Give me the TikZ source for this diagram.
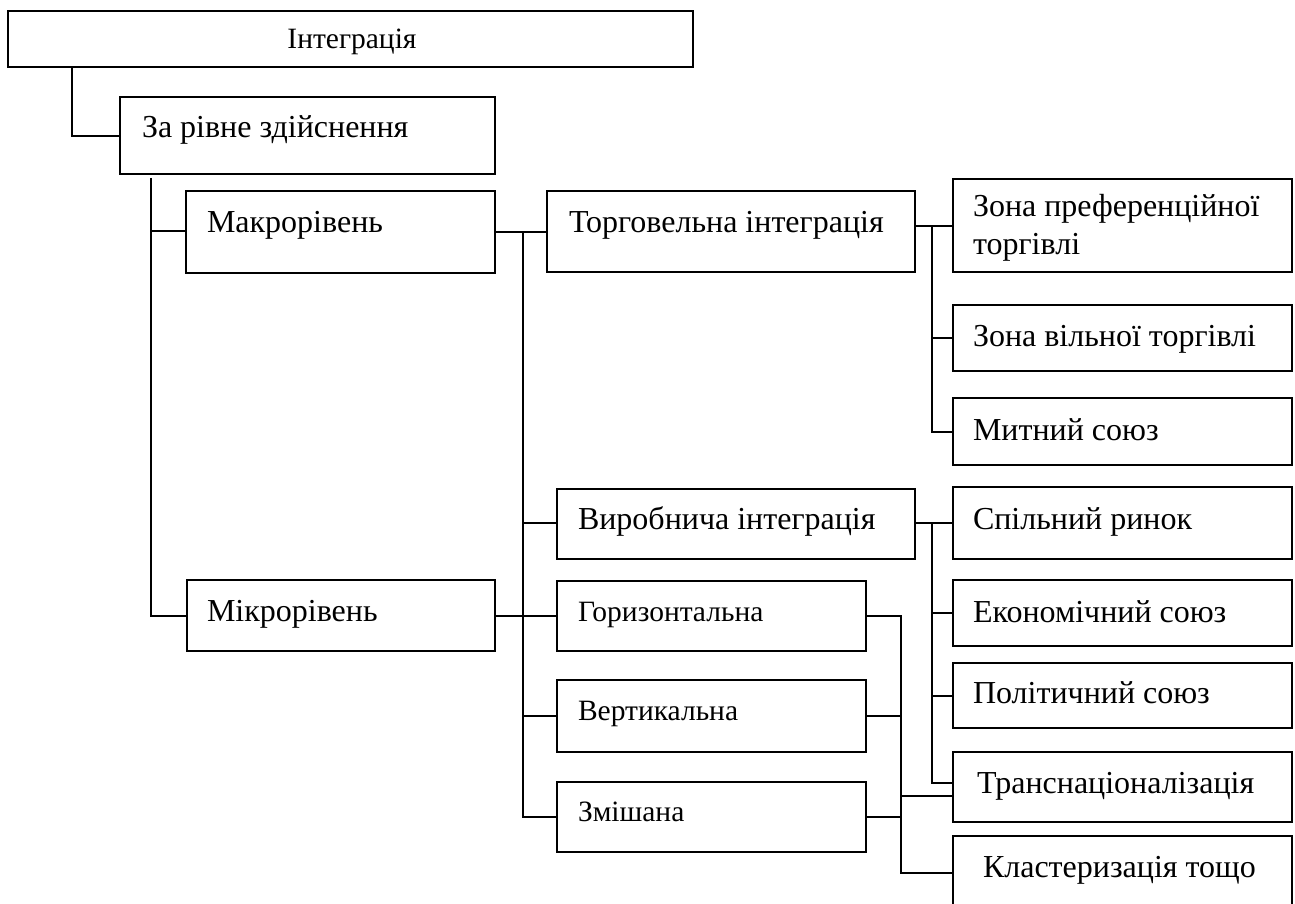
\documentclass[tikz,border=0pt]{standalone}
\usepackage{fontspec}
\setmainfont{Liberation Serif}
\tikzset{
  boxst/.style={draw=black, line width=1.8pt, rectangle, inner sep=0pt, outer sep=0pt, fill=white},
  txt/.style={inner sep=0pt, outer sep=0pt, anchor=base west, font=\fontsize{32}{38}\selectfont},
  txts/.style={inner sep=0pt, outer sep=0pt, anchor=base west, font=\fontsize{29.5}{35}\selectfont},
  conn/.style={draw=black, line width=1.8pt},
}
\newcommand\bxx[5]{\node[boxst, anchor=north west, minimum width={(#4-#2)*1pt}, minimum height={(#5-#3)*1pt}] (#1) at (#2,#3) {};}
\begin{document}
\begin{tikzpicture}[x=1pt,y=-1pt]
\useasboundingbox[fill=white] (0,0) rectangle (1295,904);
% boxes
\bxx{int}{8}{11}{693}{67}
\bxx{zr}{120}{97}{495}{174}
\bxx{mac}{186}{191}{495}{273}
\bxx{mic}{187}{580}{495}{651}
\bxx{tor}{547}{191}{915}{272}
\bxx{vyr}{557}{489}{915}{559}
\bxx{hor}{557}{581}{866}{651}
\bxx{ver}{557}{680}{866}{752}
\bxx{zmi}{557}{782}{866}{852}
\bxx{zp}{953}{179}{1292}{272}
\bxx{zv}{953}{305}{1292}{371}
\bxx{mit}{953}{398}{1292}{465}
\bxx{sr}{953}{487}{1292}{559}
\bxx{es}{953}{580}{1292}{646}
\bxx{ps}{953}{663}{1292}{728}
\bxx{tr}{953}{752}{1292}{822}
\bxx{kl}{953}{836}{1292}{908}
% texts
\node[txts, anchor=base] (intt) at (352,49) {Інтеграція};
\node[txt] (zrt) at (142,138) {За рівне здійснення};
\node[txt] (mact) at (207,233) {Макрорівень};
\node[txt] (mict) at (207,621) {Мікрорівень};
\node[txt] (tort) at (569,232) {Торговельна інтеграція};
\node[txt] (vyrt) at (578,529) {Виробнича інтеграція};
\node[txts] (hort) at (578,621) {Горизонтальна};
\node[txts] (vert) at (578,720) {Вертикальна};
\node[txts] (zmit) at (578,821) {Змішана};
\node[txt] (zpt) at (973,216) {Зона преференційної};
\node[txt] (zpt2) at (973,254) {торгівлі};
\node[txt] (zvt) at (973,346) {Зона вільної торгівлі};
\node[txt] (mitt) at (973,440) {Митний союз};
\node[txt] (srt) at (973,529) {Спільний ринок};
\node[txt] (est) at (973,622) {Економічний союз};
\node[txt] (pst) at (973,703) {Політичний союз};
\node[txt] (trt) at (977,793) {Транснаціоналізація};
\node[txt] (klt) at (983,877) {Кластеризація тощо};
% junction coordinates
\coordinate (j1) at (72,136);
\coordinate (j2) at (151,178);
\coordinate (y231) at (0,231);
\coordinate (y616) at (0,616);
\coordinate (y232) at (0,232);
\coordinate (y523) at (0,523);
\coordinate (y716) at (0,716);
\coordinate (y817) at (0,817);
\coordinate (x523) at (523,0);
\coordinate (x932) at (932,0);
\coordinate (x901) at (901,0);
\coordinate (y226) at (0,226);
\coordinate (y338) at (0,338);
\coordinate (y432) at (0,432);
\coordinate (y613) at (0,613);
\coordinate (y696) at (0,696);
\coordinate (y783) at (0,783);
\coordinate (y796) at (0,796);
\coordinate (y873) at (0,873);
% connectors
\draw[conn] (int.south -| j1) -- (j1) -- (zr.west |- j1);
\draw[conn] (j2) -- (j2 |- y616) -- (mic.west |- y616);
\draw[conn] (j2 |- y231) -- (mac.west |- y231);
\draw[conn] (mac.east |- y232) -- (tor.west |- y232);
\draw[conn] (x523 |- y232) -- (x523 |- y817) -- (zmi.west |- y817);
\draw[conn] (x523 |- y523) -- (vyr.west |- y523);
\draw[conn] (mic.east |- y616) -- (hor.west |- y616);
\draw[conn] (x523 |- y716) -- (ver.west |- y716);
\draw[conn] (tor.east |- y226) -- (zp.west |- y226);
\draw[conn] (x932 |- y226) -- (x932 |- y432) -- (mit.west |- y432);
\draw[conn] (x932 |- y338) -- (zv.west |- y338);
\draw[conn] (vyr.east |- y523) -- (sr.west |- y523);
\draw[conn] (x932 |- y523) -- (x932 |- y783) -- (tr.west |- y783);
\draw[conn] (x932 |- y613) -- (es.west |- y613);
\draw[conn] (x932 |- y696) -- (ps.west |- y696);
\draw[conn] (hor.east |- y616) -- (x901 |- y616) -- (x901 |- y873) -- (kl.west |- y873);
\draw[conn] (ver.east |- y716) -- (x901 |- y716);
\draw[conn] (zmi.east |- y817) -- (x901 |- y817);
\draw[conn] (x901 |- y796) -- (tr.west |- y796);
\end{tikzpicture}
\end{document}
